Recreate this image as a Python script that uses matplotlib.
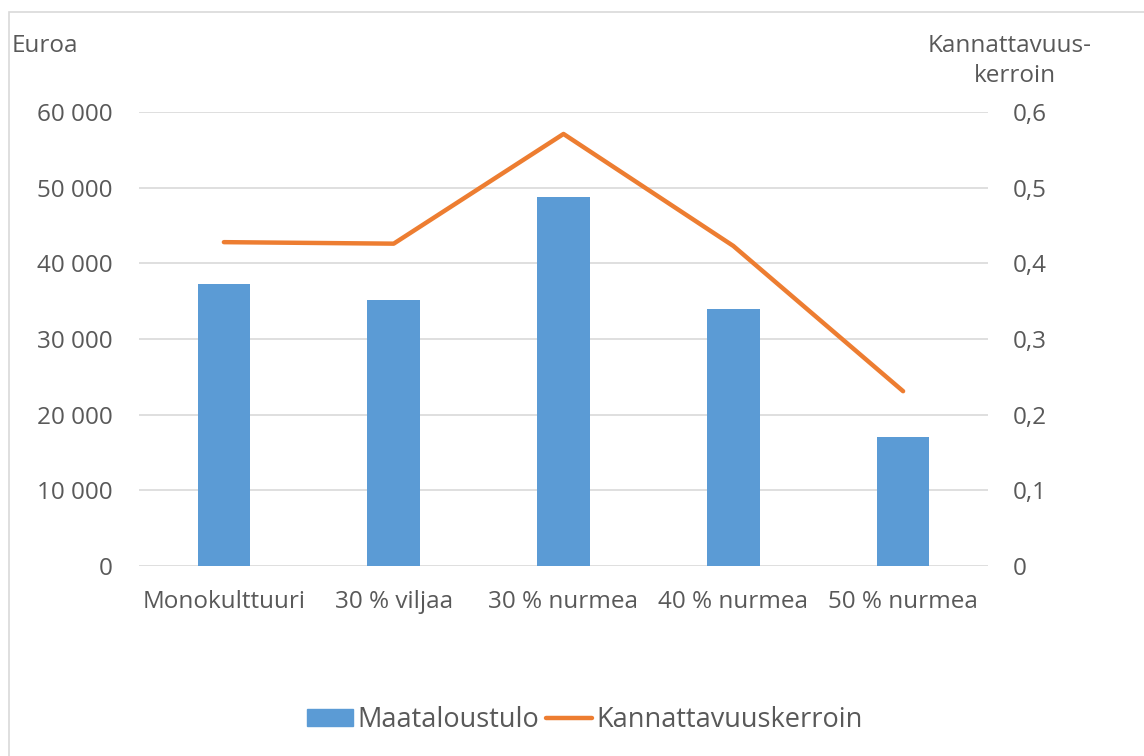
import matplotlib
matplotlib.use("Agg")
import matplotlib.pyplot as plt
from matplotlib.patches import Rectangle
from matplotlib.lines import Line2D

categories = ["Monokulttuuri", "30 % viljaa", "30 % nurmea", "40 % nurmea", "50 % nurmea"]
maataloustulo = [37300, 35100, 48800, 34000, 17000]
kannattavuus = [0.428, 0.426, 0.571, 0.423, 0.231]
left_ticks = [0, 10000, 20000, 30000, 40000, 50000, 60000]
left_labels = ["0", "10 000", "20 000", "30 000", "40 000", "50 000", "60 000"]
right_ticks = [0, 0.1, 0.2, 0.3, 0.4, 0.5, 0.6]
right_labels = ["0", "0,1", "0,2", "0,3", "0,4", "0,5", "0,6"]

plt.rcParams['font.family'] = ['Open Sans', 'DejaVu Sans']
TXT = "#595959"
FS = 17.5
LFS = 19.5

fig = plt.figure(figsize=(11.44, 7.56), dpi=100)
fig.patches.append(Rectangle((9/1144, -0.2), 1.2, 0.2 + (756-12)/756, transform=fig.transFigure,
                             fill=False, edgecolor="#d9d9d9", linewidth=1.2))
ax = fig.add_axes([139/1144, 1-566/756, (988-139)/1144, (566-112)/756])
x = list(range(len(categories)))
ax.bar(x, maataloustulo, width=0.31, color="#5b9bd5", zorder=2)
ax.set_ylim(0, 60000)
ax.set_xlim(-0.5, len(categories)-0.5)
ax.set_yticks(left_ticks)
ax.set_yticklabels(left_labels)
ax.set_xticks(x)
ax.set_xticklabels(categories)
ax.grid(axis='y', color="#d9d9d9", linewidth=1.2, zorder=0)
for s in ax.spines.values():
    s.set_visible(False)
ax.tick_params(axis='both', length=0, labelsize=FS, labelcolor=TXT)
ax.tick_params(axis='y', pad=19)
ax.tick_params(axis='x', pad=17)

ax2 = ax.twinx()
ax2.plot(x, kannattavuus, color="#ed7d31", linewidth=3.2, solid_capstyle='round', zorder=3)
ax2.set_ylim(0, 0.6)
ax2.set_yticks(right_ticks)
ax2.set_yticklabels(right_labels)
for s in ax2.spines.values():
    s.set_visible(False)
ax2.tick_params(axis='y', length=0, labelsize=FS, labelcolor=TXT, pad=18)

fig.text(12/1144, 1-46/756, "Euroa", fontsize=FS, color=TXT, ha='left', va='center')
fig.text(1010/1144, 1-46/756, "Kannattavuus-", fontsize=FS, color=TXT, ha='center', va='center')
fig.text(1015/1144, 1-76/756, "kerroin", fontsize=FS, color=TXT, ha='center', va='center')

handles = [Rectangle((0, 0), 1, 1, color="#5b9bd5"),
           Line2D([0], [0], color="#ed7d31", linewidth=3.2, solid_capstyle='round')]
fig.legend(handles, ["Maataloustulo", "Kannattavuuskerroin"], loc='center',
           bbox_to_anchor=(585/1144, 1-720/756), ncol=2, frameon=False,
           fontsize=LFS, labelcolor=TXT, handlelength=1.7, handleheight=0.6,
           handletextpad=0.15, columnspacing=0.25)

fig.savefig("out.png", dpi=100)
